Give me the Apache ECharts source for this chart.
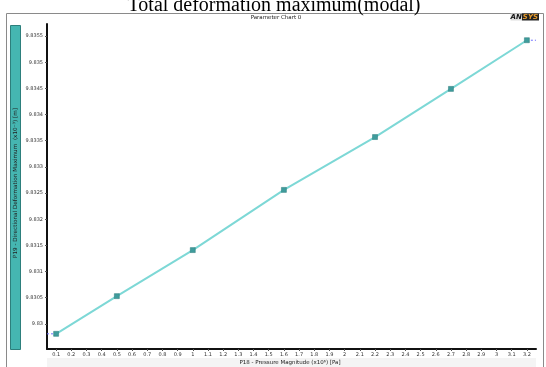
<!DOCTYPE html>
<html>
<head>
<meta charset="utf-8">
<script src="https://cdn.jsdelivr.net/npm/echarts@6/dist/echarts.min.js"></script>
<style>html,body{margin:0;padding:0;background:#fff;}#c{width:546px;height:367px;}</style>
</head>
<body>
<div id="c"></div>
<script>
const pressure = [0.1, 0.5, 1.0, 1.6, 2.2, 2.7, 3.2];
const deformation = [9.82981, 9.83053, 9.83141, 9.83256, 9.83357, 9.83449, 9.83542];
const xTicks = [0.1,0.2,0.3,0.4,0.5,0.6,0.7,0.8,0.9,1,1.1,1.2,1.3,1.4,1.5,1.6,1.7,1.8,1.9,2,2.1,2.2,2.3,2.4,2.5,2.6,2.7,2.8,2.9,3,3.1,3.2];
const yTicks = [9.83,9.8305,9.831,9.8315,9.832,9.8325,9.833,9.8335,9.834,9.8345,9.835,9.8355];
const titleText = 'Total deformation maximum(modal)';
const subTitle = 'Parameter Chart 0';
const xName = 'P18 - Pressure Magnitude (x10\u2076) [Pa]';
const yName = 'P19 - Directional Deformation Maximum  (x10\u207B\u00B3) [m]';

const xMin = 0.04, xMax = 3.26, yMin = 9.82952, yMax = 9.83573;

const chart = echarts.init(document.getElementById('c'), null, {renderer: 'canvas'});
const fmt = v => String(parseFloat(Number(v).toFixed(4)));
const n = pressure.length;
chart.setOption({
  animation: false,
  backgroundColor: '#fff',
  grid: {left: 47, right: 10, top: 24, bottom: 18},
  xAxis: {
    type: 'value', min: xMin, max: xMax,
    axisLine: {show: true, lineStyle: {color: '#111', width: 2}},
    axisTick: {show: true, length: 2, customValues: xTicks, lineStyle: {color: '#555'}},
    axisLabel: {customValues: xTicks, formatter: fmt, fontSize: 5, color: '#333', margin: 3, fontFamily: 'DejaVu Sans'},
    splitLine: {show: false}
  },
  yAxis: {
    type: 'value', min: yMin, max: yMax,
    axisLine: {show: true, lineStyle: {color: '#111', width: 2}},
    axisTick: {show: true, length: 2, customValues: yTicks, lineStyle: {color: '#555'}},
    axisLabel: {customValues: yTicks, formatter: fmt, fontSize: 5, color: '#333', margin: 4, fontFamily: 'DejaVu Sans'},
    splitLine: {show: false}
  },
  series: [
    {
      type: 'line',
      data: pressure.map((p, i) => [p, deformation[i]]),
      lineStyle: {color: '#7dd8d6', width: 2},
      symbol: 'rect', symbolSize: 5,
      itemStyle: {color: '#3f9c9c', borderColor: '#2a7a7a', borderWidth: 0.5},
      z: 3
    },
    {
      type: 'line',
      data: [[xMin, deformation[0]], [pressure[0], deformation[0]]],
      lineStyle: {color: '#6f6fff', width: 1, type: [2, 2]},
      symbol: 'none', z: 2
    },
    {
      type: 'line',
      data: [[pressure[n-1], deformation[n-1]], [xMax, deformation[n-1]]],
      lineStyle: {color: '#6f6fff', width: 1, type: [2, 2]},
      symbol: 'none', z: 2
    }
  ],
  graphic: [
    {type: 'rect', shape: {x: 6.5, y: 13.5, width: 537, height: 360}, style: {fill: 'none', stroke: '#8a8a8a', lineWidth: 1}, z: 0},
    {type: 'rect', shape: {x: 47, y: 358, width: 489, height: 9}, style: {fill: '#f4f4f4'}, z: -1},
    {type: 'rect', shape: {x: 10.5, y: 25.5, width: 10, height: 324}, style: {fill: '#45b6b1', stroke: '#2d7f7c', lineWidth: 1}, z: 1},
    {type: 'text', x: 16, y: 183, rotation: Math.PI / 2,
      style: {text: yName, fontSize: 5.7, fill: '#222', align: 'center', verticalAlign: 'middle', fontFamily: 'DejaVu Sans'}, z: 2},
    {type: 'text', x: 290, y: 363, style: {text: xName, fontSize: 5.5, fill: '#222', align: 'center', verticalAlign: 'middle', fontFamily: 'DejaVu Sans'}, z: 2},
    {type: 'text', x: 276, y: 17.5, style: {text: subTitle, fontSize: 5.5, fill: '#222', align: 'center', verticalAlign: 'middle', fontFamily: 'DejaVu Sans'}, z: 2},
    {type: 'text', x: 274, y: 6, style: {text: titleText, fontSize: 20, fill: '#000', align: 'center', verticalAlign: 'middle', fontFamily: 'Liberation Serif'}, z: 2},
    {type: 'text', x: 539, y: 17, style: {
      text: '{a|AN}{b|SYS}', align: 'right', verticalAlign: 'middle',
      rich: {
        a: {fontSize: 7, fontWeight: 'bold', fontStyle: 'italic', fill: '#111', fontFamily: 'DejaVu Sans', backgroundColor: '#ddd', padding: [0, 0]},
        b: {fontSize: 7, fontWeight: 'bold', fontStyle: 'italic', fill: '#e59a2c', fontFamily: 'DejaVu Sans', backgroundColor: '#222', padding: [0, 1]}
      }}, z: 2}
  ]
});
</script>
</body>
</html>
